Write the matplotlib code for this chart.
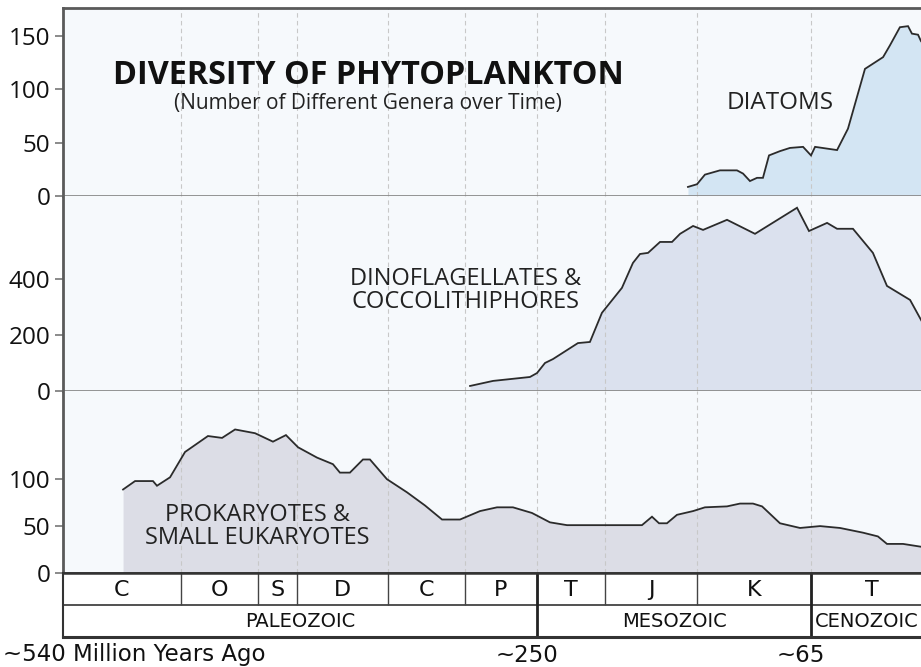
import numpy as np
import matplotlib.pyplot as plt

# geologic time scale (Ma) used for the strip under the plot
PERIOD_LABELS = ["C", "O", "S", "D", "C", "P", "T", "J", "K", "T"]
PERIOD_BOUNDS = [541, 485, 443, 419, 359, 299, 252, 201, 145, 66, 0]
ERA_LABELS = ["PALEOZOIC", "MESOZOIC", "CENOZOIC"]
ERA_BOUNDS = [541, 252, 66, 0]

# number of genera (age in Ma)
diatom_age = [150.5, 145.0, 139.5, 129.1, 117.3, 113.1, 108.3, 103.4, 99.3, 95.1,
              87.5, 80.6, 71.5, 66.0, 63.8, 51.9, 46.0, 36.8, 27.0, 23.3,
              17.9, 13.5, 11.4, 8.1, 6.5, 2.0]
diatom_genera = [8.5, 11, 20, 24, 24, 21, 14, 17, 17, 38,
                 42, 45, 46, 38, 46, 43, 63, 119, 130, 141,
                 158, 159, 152, 151, 145, 135]

dino_age = [295.7, 280.7, 256.6, 252.0, 246.0, 240.0, 221.3, 212.3, 203.3, 190.7,
            184.0, 179.7, 174.8, 167.5, 160.2, 155.3, 147.4, 140.8, 124.2, 104.8,
            75.7, 67.4, 57.3, 51.9, 43.3, 32.5, 24.9, 12.4, 6.5, 2.0]
dino_genera = [18, 36, 50, 64, 100, 114, 171, 175, 279, 368,
               457, 489, 493, 532, 532, 561, 589, 575, 611, 561,
               654, 571, 600, 579, 579, 493, 375, 325, 254, 200]

prok_age = [512.5, 506.8, 498.3, 496.4, 490.2, 482.8, 470.3, 462.6, 455.5, 444.6,
            433.8, 425.8, 418.3, 405.8, 395.3, 390.7, 384.1, 375.5, 370.9, 359.7,
            344.2, 330.2, 316.9, 302.9, 289.2, 278.1, 267.7, 255.3, 242.3, 229.5,
            178.5, 172.4, 168.1, 163.3, 157.2, 147.4, 139.5, 124.2, 115.2, 106.2,
            99.9, 87.5, 73.6, 61.1, 50.3, 37.9, 29.8, 24.9, 16.2, 6.5, 2.0]
prok_genera = [89, 98, 98, 93, 102, 129, 146, 144, 153, 149,
               140, 147, 134, 123, 116, 107, 107, 121, 121, 100,
               86, 72, 57, 57, 66, 70, 70, 64, 54, 51,
               51, 60, 53, 53, 62, 66, 70, 71, 74, 74,
               71, 53, 48, 50, 48, 43, 39, 31, 31, 28, 27]

# the original draws the time axis schematically: each period gets its own width
# (distance from the present, in drawing units, for each boundary in PERIOD_BOUNDS)
TIMELINE_POS = [870, 752, 675, 636, 545, 468, 396, 328, 236, 122, 0]
_ages_asc = np.array(PERIOD_BOUNDS[::-1], dtype=float)
_pos_asc = np.array(TIMELINE_POS[::-1], dtype=float)


def forward(age):
    return np.interp(np.asarray(age, dtype=float), _ages_asc, _pos_asc)


def inverse(pos):
    return np.interp(np.asarray(pos, dtype=float), _pos_asc, _ages_asc)


def mid_age(a, b):
    return float(inverse((forward(a) + forward(b)) / 2))


plt.rcParams['font.family'] = ['Open Sans', 'DejaVu Sans']
NARROW = ['Liberation Sans Narrow', 'DejaVu Sans']

W, H = 921, 667
fig = plt.figure(figsize=(W / 100, H / 100), dpi=100)


def box(top_px, bot_px, left_px=63, right_px=933):
    return [left_px / W, 1 - bot_px / H, (right_px - left_px) / W, (bot_px - top_px) / H]


PANEL_BG = '#f6f9fc'
SPINE = '#5a5a5a'
SEP = '#8a8a8a'
LINE = '#2b2b2b'

panels = [
    (box(8, 196), diatom_age, diatom_genera, '#d3e5f3', 176, [0, 50, 100, 150]),
    (box(196, 391), dino_age, dino_genera, '#dbe1ee', 696, [0, 200, 400]),
    (box(391, 573), prok_age, prok_genera, '#dcdde6', 194, [0, 50, 100]),
]

axes = []
for rect, age, vals, fc, ytop, yt in panels:
    ax = fig.add_axes(rect)
    ax.set_xscale('function', functions=(forward, inverse))
    ax.set_xlim(541, 0)
    ax.set_ylim(0, ytop)
    ax.set_facecolor(PANEL_BG)
    ax.fill_between(age, vals, 0, color=fc, lw=0, zorder=1)
    ax.vlines(PERIOD_BOUNDS[1:-1], 0, ytop, colors='#c8c8c8', lw=0.8,
              linestyles=(0, (4, 3)), zorder=2)
    ax.plot(age, vals, color=LINE, lw=1.3, zorder=3, solid_joinstyle='miter')
    ax.set_xticks([])
    ax.set_yticks(yt)
    ax.tick_params(axis='y', length=6, width=1.2, color='#777777',
                   labelsize=17.5, pad=3, labelcolor='#111111')
    ax.spines['right'].set_visible(False)
    ax.spines['top'].set_visible(False)
    ax.spines['left'].set_color(SPINE)
    ax.spines['left'].set_linewidth(2)
    ax.spines['bottom'].set_color(SEP)
    ax.spines['bottom'].set_linewidth(2)
    axes.append(ax)

ax_top, ax_mid, ax_bot = axes
ax_top.spines['top'].set_visible(True)
ax_top.spines['top'].set_color(SPINE)
ax_top.spines['top'].set_linewidth(2)
ax_bot.spines['bottom'].set_color('#333333')

ax_top.text(0.3506, 0.597, "DIVERSITY OF PHYTOPLANKTON", transform=ax_top.transAxes,
            ha='center', va='baseline', fontsize=23.3, fontweight='bold', color='#111111')
ax_top.text(0.3506, 0.463, "(Number of Different Genera over Time)", transform=ax_top.transAxes,
            ha='center', va='baseline', fontsize=15, color='#222222')
ax_top.text(0.824, 0.495, "DIATOMS", transform=ax_top.transAxes,
            ha='center', va='center', fontsize=17.5, color='#222222')
ax_mid.text(0.463, 0.515, "DINOFLAGELLATES &\nCOCCOLITHIPHORES", transform=ax_mid.transAxes,
            ha='center', va='center', fontsize=17, color='#222222', linespacing=0.95)
ax_bot.text(0.223, 0.255, "PROKARYOTES &\nSMALL EUKARYOTES", transform=ax_bot.transAxes,
            ha='center', va='center', fontsize=17, color='#222222', linespacing=0.95)

# time-scale strip
strat = fig.add_axes(box(573, 637))
strat.set_xscale('function', functions=(forward, inverse))
strat.set_xlim(541, 0)
strat.set_ylim(0, 2)
strat.set_xticks([])
strat.set_yticks([])
strat.spines['right'].set_visible(False)
strat.spines['left'].set_color('#333333')
strat.spines['left'].set_linewidth(1.5)
strat.spines['top'].set_color('#333333')
strat.spines['top'].set_linewidth(1.8)
strat.spines['bottom'].set_color('#333333')
strat.spines['bottom'].set_linewidth(2.2)
strat.axhline(1, color='#333333', lw=1.2)
strat.vlines(PERIOD_BOUNDS[1:-1], 1, 2, colors='#444444', lw=1.0)
strat.vlines(ERA_BOUNDS[1:-1], 0, 2, colors='#222222', lw=2.0)

for name, a, b in zip(PERIOD_LABELS, PERIOD_BOUNDS[:-1], PERIOD_BOUNDS[1:]):
    strat.text(mid_age(a, b), 1.48, name, ha='center', va='center',
               fontsize=16, family=NARROW, color='#111111')
for name, a, b in zip(ERA_LABELS[:-1], ERA_BOUNDS[:-2], ERA_BOUNDS[1:-1]):
    strat.text(mid_age(a, b), 0.48, name, ha='center', va='center',
               fontsize=14, family=NARROW, color='#111111')
# the last era runs off the right edge, so its name sits against the boundary
strat.annotate(ERA_LABELS[-1], xy=(ERA_BOUNDS[-2], 0.48), xytext=(4, 0),
               textcoords='offset pixels', ha='left', va='center',
               fontsize=14, family=NARROW, color='#111111')

fig.text(3 / W, 1 - 655 / H, "~540 Million Years Ago", ha='left', va='center',
         fontsize=16.5, family=NARROW, color='#111111')
for age_lbl, txt in [(252, "~250"), (66, "~65")]:
    strat.annotate(txt, xy=(age_lbl, 0), xycoords=('data', 'axes fraction'),
                   xytext=(-10, -18), textcoords='offset pixels',
                   ha='center', va='center', fontsize=16.5, family=NARROW,
                   color='#111111', annotation_clip=False)

fig.savefig('out.png', dpi=100, facecolor='white')
